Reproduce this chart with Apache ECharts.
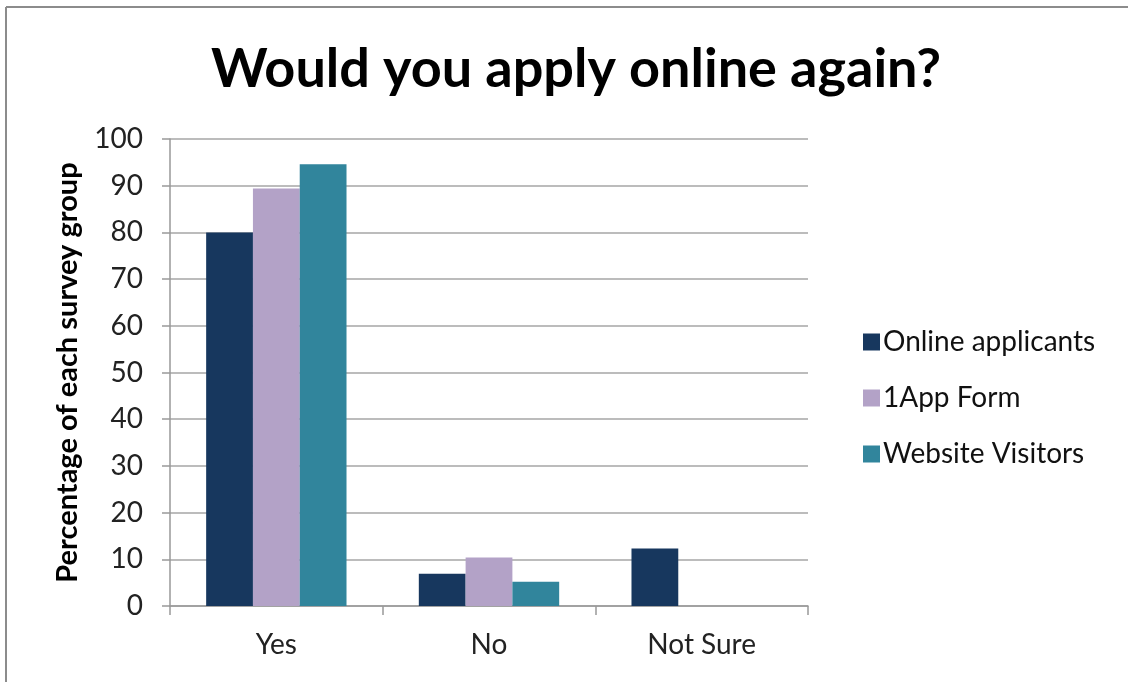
<!DOCTYPE html>
<html><head><meta charset="utf-8">
<script src="https://cdn.jsdelivr.net/npm/echarts@6/dist/echarts.min.js"></script>
<style>
html,body{margin:0;padding:0;background:#fff;overflow:hidden;width:1128px;height:682px;}
#c{position:absolute;left:0;top:0;width:1128px;height:682px;}
</style></head>
<body>
<div id="c"></div>
<script>
const categories = ['Yes', 'No', 'Not Sure'];
const seriesNames = ['Online applicants', '1App Form', 'Website Visitors'];
const onlineApplicants = [80, 6.9, 12.3];
const appForm = [89.4, 10.4, 0];
const websiteVisitors = [94.6, 5.2, 0];
const colors = ['#17375e', '#b3a2c7', '#31859c'];
const font = 'Lato, "Open Sans", sans-serif';

const chart = echarts.init(document.getElementById('c'), null, {renderer: 'canvas'});
const values = [onlineApplicants, appForm, websiteVisitors];
chart.setOption({
  animation: false,
  title: {
    text: 'Would you apply online again?',
    left: 571, top: 38, textAlign: 'center',
    textStyle: {fontFamily: font, fontSize: 54, fontWeight: 'bold', color: '#000'}
  },
  legend: {
    orient: 'vertical', left: 858, top: 323,
    itemWidth: 17, itemHeight: 17, itemGap: 28, icon: 'rect',
    textStyle: {fontFamily: font, fontSize: 28, color: '#111', padding: [0,0,0,-2]},
    data: seriesNames
  },
  grid: {left: 170, right: 320, top: 139, bottom: 76},
  xAxis: {
    type: 'category', data: categories,
    axisLine: {lineStyle: {color: '#999', width: 1.5}},
    axisTick: {show: true, length: 9, lineStyle: {color: '#999', width: 1.5}},
    axisLabel: {fontFamily: font, fontSize: 28, color: '#222', margin: 25}
  },
  yAxis: {
    type: 'value', min: 0, max: 100, interval: 10,
    name: 'Percentage of each survey group', nameLocation: 'middle', nameGap: 88,
    nameTextStyle: {fontFamily: font, fontSize: 29, fontWeight: 'bold', color: '#000'},
    axisLine: {show: true, lineStyle: {color: '#999', width: 1.5}},
    axisTick: {show: true, inside: false, length: 8, lineStyle: {color: '#999', width: 1.5}},
    splitLine: {lineStyle: {color: '#a6a6a6', width: 1.5}},
    axisLabel: {fontFamily: font, fontSize: 28, color: '#222', margin: 27}
  },
  series: seriesNames.map((n, i) => ({
    name: n, type: 'bar', data: values[i],
    barGap: '0%', barCategoryGap: '34%',
    itemStyle: {color: colors[i]}
  })),
  graphic: [
    {type: 'line', shape: {x1: 6, y1: 7, x2: 1128, y2: 7}, style: {stroke: '#8c8c8c', lineWidth: 2}, silent: true},
    {type: 'line', shape: {x1: 6, y1: 7, x2: 6, y2: 682}, style: {stroke: '#8c8c8c', lineWidth: 2}, silent: true}
  ]
});
</script>
</body></html>
